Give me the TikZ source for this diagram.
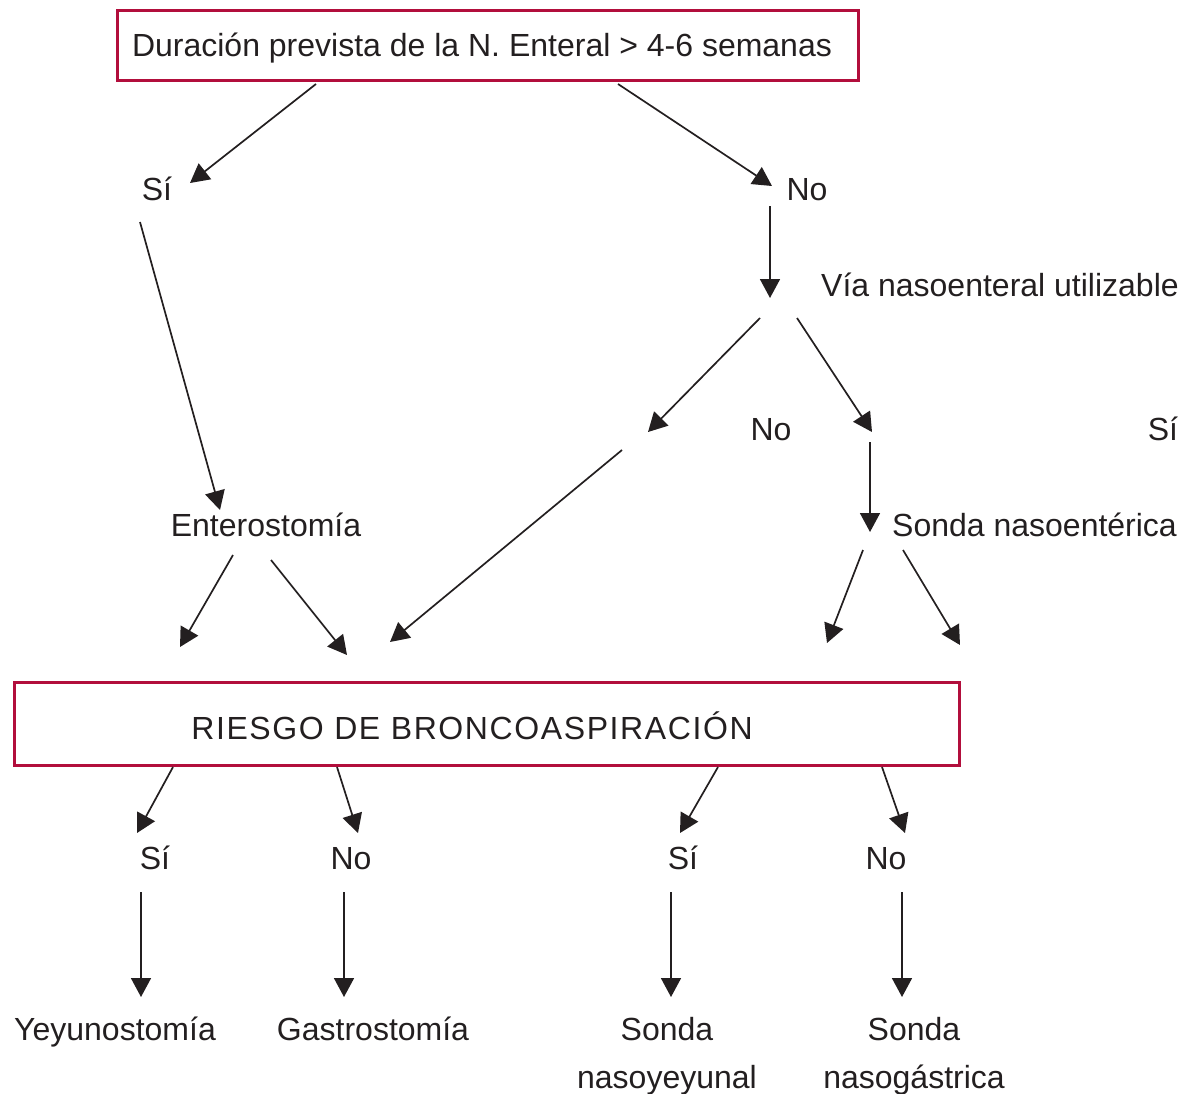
\documentclass[tikz,border=0pt]{standalone}
\usepackage{fontspec}
\setmainfont{Liberation Sans}
\usetikzlibrary{arrows.meta}
\definecolor{boxred}{RGB}{178,14,60}
\definecolor{ink}{RGB}{35,31,32}
\begin{document}
\begin{tikzpicture}[x=1pt,y=-1pt,
  lbl/.style={font=\fontsize{32}{38}\selectfont, text=ink, inner sep=0pt, text height=23pt, text depth=0pt},
  redbox/.style={draw=boxred, line width=3pt},
  arr/.style={draw=ink, line width=1.7pt, -{Triangle[length=19pt,width=20pt]}}]
\useasboundingbox (0,0) rectangle (1182,1093);
% boxes
\node[redbox, minimum width=741pt, minimum height=70pt, inner sep=0pt] (top) at (487.5,45) {};
\node[lbl, anchor=center] (toptxt) at (482,45) {Duración prevista de la N. Enteral > 4-6 semanas};
\node[redbox, minimum width=945pt, minimum height=83pt, inner sep=0pt] (riesgo) at (486.5,723.5) {};
\node[lbl, anchor=center] (riesgotxt) at (472,728) {\addfontfeatures{LetterSpace=5}RIESGO DE BRONCOASPIRACIÓN};
% labels
\node[lbl] (si1) at (157,189) {Sí};
\node[lbl] (no1) at (807,189) {No};
\node[lbl, anchor=west] (via) at (821,285) {Vía nasoenteral utilizable};
\node[lbl] (no2) at (771,429) {No};
\node[lbl] (si2) at (1163,429) {Sí};
\node[lbl] (entero) at (266,525) {Enterostomía};
\node[lbl, anchor=west] (sne) at (892,525) {Sonda nasoentérica};
\node[lbl] (si3) at (155,858) {Sí};
\node[lbl] (no3) at (351,858) {No};
\node[lbl] (si4) at (683,858) {Sí};
\node[lbl] (no4) at (886,858) {No};
\node[lbl] (yey) at (115,1029) {Yeyunostomía};
\node[lbl] (gas) at (373,1029) {Gastrostomía};
\node[lbl] (snyA) at (667,1029) {Sonda};
\node[lbl] (snyB) at (667,1077) {nasoyeyunal};
\node[lbl] (sngA) at (914,1029) {Sonda};
\node[lbl] (sngB) at (914,1077) {nasogástrica};
% connector points
\coordinate (a1s) at (316,84);  \coordinate (a1e) at (190,183);
\coordinate (a2s) at (618,84);  \coordinate (a2e) at (772,186);
\coordinate (a3s) at (770,206); \coordinate (a3e) at (770,298);
\coordinate (a4s) at (760,318); \coordinate (a4e) at (648,432);
\coordinate (a5s) at (797,318); \coordinate (a5e) at (872,432);
\coordinate (a6s) at (870,442); \coordinate (a6e) at (870,532);
\coordinate (a7s) at (140,222); \coordinate (a7e) at (220,510);
\coordinate (a8s) at (622,450); \coordinate (a8e) at (390,642);
\coordinate (a9s) at (233,555); \coordinate (a9e) at (180,647);
\coordinate (a10s) at (271,560); \coordinate (a10e) at (347,655);
\coordinate (a11s) at (863,550); \coordinate (a11e) at (827,643);
\coordinate (a12s) at (903,550); \coordinate (a12e) at (960,645);
\coordinate (a13s) at (173,767); \coordinate (a13e) at (137,833);
\coordinate (a14s) at (337,767); \coordinate (a14e) at (358,833);
\coordinate (a15s) at (718,767); \coordinate (a15e) at (680,833);
\coordinate (a16s) at (882,767); \coordinate (a16e) at (905,833);
\coordinate (a17s) at (141,892); \coordinate (a17e) at (141,997);
\coordinate (a18s) at (344,892); \coordinate (a18e) at (344,997);
\coordinate (a19s) at (671,892); \coordinate (a19e) at (671,997);
\coordinate (a20s) at (902,892); \coordinate (a20e) at (902,997);
\foreach \i in {1,...,20} {\draw[arr] (a\i s) -- (a\i e);}
\end{tikzpicture}
\end{document}
